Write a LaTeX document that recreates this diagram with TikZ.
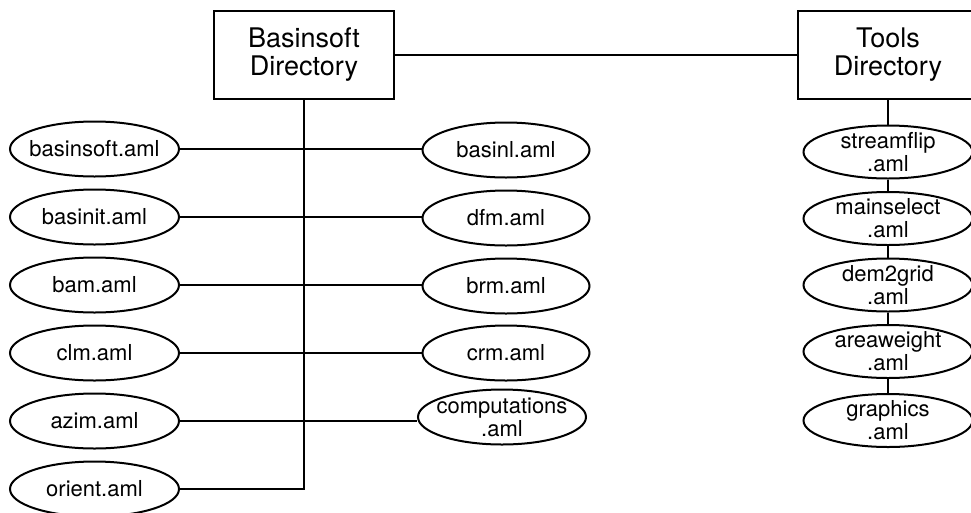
\documentclass[tikz,border=0pt]{standalone}
\usepackage{fontspec}
\setmainfont{TeX Gyre Heros}
\usetikzlibrary{shapes.geometric}
\begin{document}
\begin{tikzpicture}[x=1pt,y=-1pt,
  dirbox/.style={draw,line width=2.1pt,minimum width=180pt,minimum height=88pt,
    inner sep=0pt,align=center,font=\fontsize{27}{28}\selectfont},
  fname/.style={inner sep=0pt,align=center,font=\fontsize{22}{23}\selectfont},
  file/.style={draw,ellipse,line width=2pt,minimum width=169pt,minimum height=55pt,
    inner sep=0pt,label={[fname]center:#1}},
  tool/.style={file=#1,minimum height=53pt},
  link/.style={line width=1.4pt}]
\useasboundingbox (0,0) rectangle (971,512);

% directories
\node[dirbox] (bs) at (304,55) {Basinsoft\\Directory};
\node[dirbox] (tl) at (888,55) {Tools\\Directory};

% left column of basinsoft files
\node[file=basinsoft.aml] (basinsoft) at (94.5,149) {};
\node[file=basinit.aml]   (basinit)   at (94.5,217) {};
\node[file=bam.aml]       (bam)       at (94.5,285) {};
\node[file=clm.aml]       (clm)       at (94.5,353) {};
\node[file=azim.aml]      (azim)      at (94.5,421) {};
\node[file=orient.aml]    (orient)    at (94.5,489) {};

% right column of basinsoft files
\node[file=basinl.aml,minimum width=167pt] (basinl) at (506,150) {};
\node[file=dfm.aml,minimum width=167pt]    (dfm)    at (506,218) {};
\node[file=brm.aml,minimum width=167pt]    (brm)    at (506,286) {};
\node[file=crm.aml,minimum width=167pt]    (crm)    at (506,353) {};
\node[file={computations\\.aml},minimum width=168pt] (comp) at (502,417) {};

% tools files
\node[tool={streamflip\\.aml}] (streamflip) at (888,152)   {};
\node[tool={mainselect\\.aml}] (mainselect) at (888,218.5) {};
\node[tool={dem2grid\\.aml}]   (dem2grid)   at (888,285)   {};
\node[tool={areaweight\\.aml}] (areaweight) at (888,351.5) {};
\node[tool={graphics\\.aml}]   (graphics)   at (888,420.5) {};

% connectors
\draw[link] (bs.east) -- (tl.west);
\draw[link] (bs.south) |- (orient.east);
\draw[link] (basinsoft.east) -- (basinsoft.east -| basinl.west);
\draw[link] (basinit.east) -- (basinit.east -| dfm.west);
\draw[link] (bam.east) -- (bam.east -| brm.west);
\draw[link] (clm.east) -- (clm.east -| crm.west);
\draw[link] (azim.east) -- (azim.east -| comp.west);
\draw[link] (tl.south) -- (streamflip.north);
\draw[link] (streamflip.south) -- (mainselect.north);
\draw[link] (mainselect.south) -- (dem2grid.north);
\draw[link] (dem2grid.south) -- (areaweight.north);
\draw[link] (areaweight.south) -- (graphics.north);
\end{tikzpicture}
\end{document}
